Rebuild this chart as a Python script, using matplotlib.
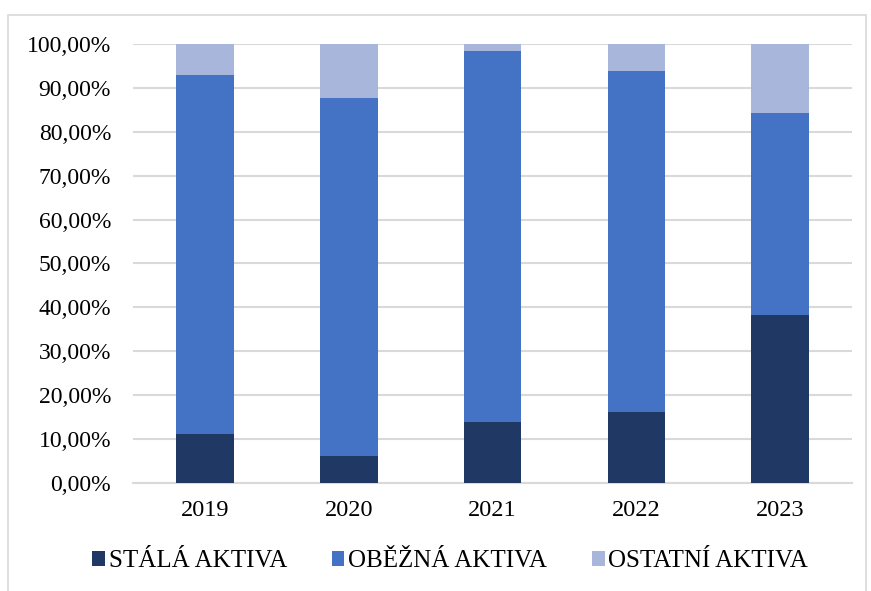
import matplotlib.pyplot as plt
import matplotlib.patches as mpatches
from matplotlib.ticker import FuncFormatter

years = ["2019", "2020", "2021", "2022", "2023"]
stala = [11.1, 6.1, 13.9, 16.2, 38.3]
obezna = [81.8, 81.6, 84.5, 77.6, 46.0]
ostatni = [7.1, 12.3, 1.6, 6.2, 15.7]
labels = ["STÁLÁ AKTIVA", "OBĚŽNÁ AKTIVA", "OSTATNÍ AKTIVA"]
colors = ["#203864", "#4472C4", "#A9B6DB"]

plt.rcParams["font.family"] = ["Liberation Serif", "DejaVu Serif"]

fig = plt.figure(figsize=(8.71, 5.91), dpi=100)
ax = fig.add_axes([0.153, 0.1827, 0.825, 0.743])

x = range(len(years))
bottom2 = [a + b for a, b in zip(stala, obezna)]
ax.bar(x, stala, width=0.4, color=colors[0], label=labels[0], zorder=3)
ax.bar(x, obezna, width=0.4, bottom=stala, color=colors[1], label=labels[1], zorder=3)
ax.bar(x, ostatni, width=0.4, bottom=bottom2, color=colors[2], label=labels[2], zorder=3)

ax.set_xlim(-0.5, len(years) - 0.5)
ax.set_ylim(0, 100)
ax.set_yticks(range(0, 101, 10))
ax.yaxis.set_major_formatter(FuncFormatter(lambda v, p: f"{v:.2f}%".replace(".", ",")))
ax.set_xticks(list(x))
ax.set_xticklabels(years)
ax.tick_params(axis="y", length=0, labelsize=17, colors="black", pad=16)
ax.tick_params(axis="x", length=0, labelsize=17.5, colors="black", pad=12)
ax.grid(axis="y", color="#D9D9D9", linewidth=1.5, zorder=0)
for s in ["top", "right", "left"]:
    ax.spines[s].set_visible(False)
ax.spines["bottom"].set_color("#D9D9D9")
ax.spines["bottom"].set_linewidth(1.5)

fig.legend(loc="center", bbox_to_anchor=(0.517, 0.05), ncol=3, frameon=False,
           fontsize=18, handlelength=0.5, handleheight=0.5, handletextpad=0.15,
           columnspacing=1.8)

fig.patches.append(mpatches.Rectangle((8 / 871, -0.05), 858 / 871, 1 - 15 / 591 + 0.05,
                                      transform=fig.transFigure, fill=False,
                                      edgecolor="#D9D9D9", linewidth=1.2))

plt.savefig("out.png")
plt.close()
